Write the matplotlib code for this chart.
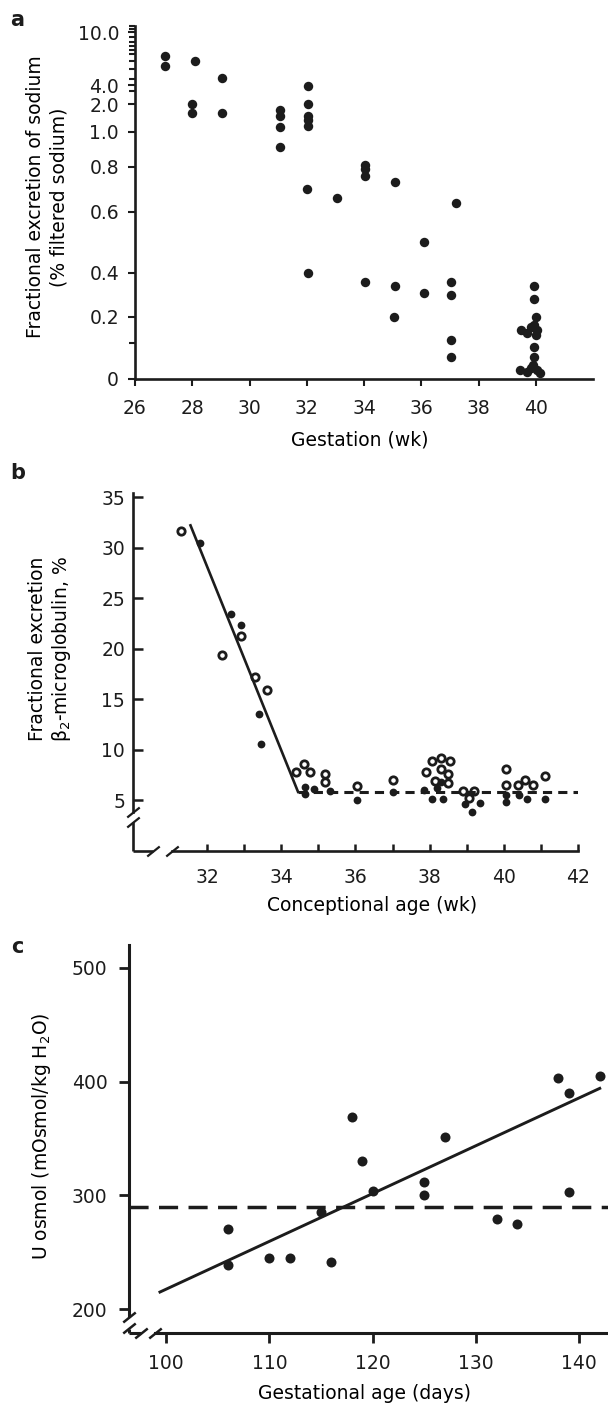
import matplotlib
matplotlib.use("Agg")
import matplotlib.pyplot as plt
import numpy as np

# ---- (a) fractional excretion of sodium vs gestation ----
gest_wk = [27.05, 27.05, 28.1, 28.0, 28.0, 29.05, 29.05,
           31.05, 31.05, 31.05, 31.05,
           32.05, 32.05, 32.05, 32.05, 32.05, 32.0, 32.05,
           33.05, 34.05, 34.05, 34.05, 34.05,
           35.1, 35.1, 35.05, 36.1, 36.1,
           37.2, 37.05, 37.05, 37.05, 37.05,
           39.95, 39.95, 40.0, 39.95, 40.05, 39.5, 39.7, 39.85, 40.0,
           39.95, 39.95, 39.9, 39.85, 39.45, 39.7, 40.05, 40.15]
fe_na = [7.28, 6.15, 6.72, 2.0, 1.67, 4.79, 1.70,
         1.78, 1.56, 1.15, 0.91,
         3.9, 2.0, 1.56, 1.41, 1.19, 0.70, 0.40,
         0.66, 0.81, 0.79, 0.76, 0.36,
         0.73, 0.34, 0.20, 0.50, 0.31,
         0.64, 0.36, 0.30, 0.11, 0.06,
         0.34, 0.28, 0.20, 0.17, 0.15, 0.15, 0.14, 0.16, 0.13,
         0.09, 0.06, 0.04, 0.03, 0.025, 0.02, 0.025, 0.017]
fe_na_ticks = [0, 0.2, 0.4, 0.6, 0.8, 1.0, 2.0, 4.0, 10.0]
fe_na_labels = ["0", "0.2", "0.4", "0.6", "0.8", "1.0", "2.0", "4.0", "10.0"]
gest_ticks = [26, 28, 30, 32, 34, 36, 38, 40]

# ---- (b) beta2-microglobulin vs conceptional age ----
b2m_open_x = [31.3, 32.4, 32.9, 33.3, 33.6,
              34.4, 34.6, 34.78, 35.18, 35.18,
              36.05, 37.0,
              37.9, 38.05, 38.3, 38.55, 38.3, 38.5, 38.15, 38.5,
              38.9, 39.2, 39.05,
              40.05, 40.05, 40.37, 40.57, 40.8, 41.1]
b2m_open_y = [31.6, 19.4, 21.3, 17.2, 15.9,
              7.85, 8.6, 7.85, 7.6, 6.8,
              6.4, 7.0,
              7.8, 8.9, 9.2, 8.9, 8.1, 7.6, 6.9, 6.7,
              5.9, 5.9, 5.2,
              8.1, 6.5, 6.5, 7.0, 6.5, 7.4]
b2m_fill_x = [31.8, 32.65, 32.9, 33.4, 33.45,
              34.64, 34.64, 34.87, 35.32,
              36.05, 37.0,
              37.85, 38.05, 38.2, 38.35, 38.3,
              38.95, 39.15, 39.35,
              40.05, 40.05, 40.4, 40.62, 41.1]
b2m_fill_y = [30.5, 23.4, 22.3, 13.5, 10.6,
              6.35, 5.6, 6.1, 5.95,
              5.0, 5.8,
              6.0, 5.1, 6.2, 5.1, 6.8,
              4.6, 3.9, 4.7,
              5.5, 4.8, 5.5, 5.1, 5.1]
b2m_fit_x = [31.55, 34.45]
b2m_fit_y = [32.2, 5.85]
b2m_plateau_x = [34.45, 42.0]
b2m_plateau_y = [5.85, 5.85]

# ---- (c) urine osmolality vs gestational age ----
osm_age = [106, 106, 110, 112, 115, 116, 118, 119, 120,
           125, 125, 127, 132, 134, 138, 139, 139, 142]
osm_val = [270, 239, 245, 245, 285, 241, 369, 330, 304,
           312, 300, 351, 279, 275, 403, 390, 303, 405]
osm_fit_x = [99.4, 142.0]
osm_fit_y = [215, 394]
osm_mean = 289.5

INK = "#1c1c1c"
W, H = 608, 1403

plt.rcParams["font.family"] = ["DejaVu Sans"]
plt.rcParams["font.size"] = 13.5
plt.rcParams["text.color"] = INK
plt.rcParams["axes.edgecolor"] = INK
plt.rcParams["xtick.color"] = INK
plt.rcParams["ytick.color"] = INK


def px_rect(left, top, right, bottom):
    return [left / W, 1 - bottom / H, (right - left) / W, (bottom - top) / H]


def slash(ax, x, y, lw):
    ax.plot([x], [y], marker=[(-1, -0.8), (1, 0.8)], ms=9, mew=lw,
            mec=INK, mfc="none", ls="none", clip_on=False)


def stub(ax, xs, ys, lw):
    ax.plot(xs, ys, color=INK, lw=lw, solid_capstyle="butt", clip_on=False)


fig = plt.figure(figsize=(W / 100, H / 100), dpi=100)

# ---------------- panel a ----------------
# hand-drawn, compressed y axis of the original figure
scale_v = [0, 0.1, 0.2, 0.4, 0.6, 0.8, 1.0, 2.0, 4.0, 10.0, 11.0]
scale_p = [0, 36, 62, 106, 167, 212, 247, 274, 293, 346, 355]

ax1 = fig.add_axes(px_rect(135, 26, 593, 379))
ax1.set_yscale("function", functions=(lambda v: np.interp(v, scale_v, scale_p),
                                      lambda p: np.interp(p, scale_p, scale_v)))
ax1.plot(gest_wk, fe_na, "o", ms=6.8, color=INK, mec="none", clip_on=False)
ax1.set_xlim(26, 42)
ax1.set_ylim(0, 10.7)
ax1.set_xticks(gest_ticks)
ax1.set_yticks(fe_na_ticks)
ax1.set_yticklabels(fe_na_labels)
ax1.set_yticks([0.1, 3.4, 4.7, 5.8, 6.8, 7.5, 8.0, 8.4, 8.9, 9.45, 10.35, 10.7],
               minor=True)
ax1.tick_params(axis="both", which="both", direction="out", width=1.5)
ax1.tick_params(axis="both", which="major", length=5)
ax1.tick_params(axis="both", which="minor", length=4)
ax1.tick_params(axis="x", pad=9.5)
ax1.tick_params(axis="y", pad=6.5)
for s in ["top", "right"]:
    ax1.spines[s].set_visible(False)
for s in ["left", "bottom"]:
    ax1.spines[s].set_linewidth(1.9)
ax1.set_xlabel("Gestation (wk)", va="center")
ax1.xaxis.set_label_coords(0.491, -0.173)
ax1.set_ylabel("Fractional excretion of sodium\n(% filtered sodium)",
               va="center", linespacing=1.3)
ax1.yaxis.set_label_coords(-0.191, 0.516)

# ---------------- panel b ----------------
ax2 = fig.add_axes(px_rect(133, 493, 578, 851))
ax2.plot(b2m_fit_x, b2m_fit_y, color=INK, lw=1.9)
ax2.plot(b2m_plateau_x, b2m_plateau_y, color=INK, lw=2.2, ls=(0, (3.0, 2.0)))
ax2.plot(b2m_fill_x, b2m_fill_y, "o", ms=5.6, color=INK, mec="none")
ax2.plot(b2m_open_x, b2m_open_y, "o", ms=5.3, mfc="none", mec=INK, mew=2.0)
ax2.set_xlim(30, 42)
ax2.set_ylim(0, 35.4)
ax2.set_xticks([32, 34, 36, 38, 40, 42])
ax2.set_xticks([33, 35, 37, 39, 41], minor=True)
ax2.set_yticks([5, 10, 15, 20, 25, 30, 35])
ax2.tick_params(axis="both", which="both", direction="in", width=1.8)
ax2.tick_params(axis="y", length=7, pad=5.8)
ax2.tick_params(axis="x", which="both", length=5, pad=12)
for s in ["top", "right"]:
    ax2.spines[s].set_visible(False)
for s in ["left", "bottom"]:
    ax2.spines[s].set_linewidth(1.9)
ax2.spines["left"].set_bounds(3.85, 35.4)
ax2.spines["bottom"].set_bounds(31.05, 42)
stub(ax2, [30, 30], [0, 2.87], 1.9)
stub(ax2, [30, 30.55], [0, 0], 1.9)
slash(ax2, 30, 3.85, 1.6)
slash(ax2, 30, 2.87, 1.6)
slash(ax2, 30.55, 0, 1.6)
slash(ax2, 31.05, 0, 1.6)
ax2.set_xlabel("Conceptional age (wk)", va="center")
ax2.xaxis.set_label_coords(0.537, -0.151)
ax2.set_ylabel("Fractional excretion\nβ$_2$-microglobulin, %", va="center")
ax2.yaxis.set_label_coords(-0.185, 0.564)

# ---------------- panel c ----------------
ax3 = fig.add_axes(px_rect(129, 945, 608, 1333))
ax3.axhline(osm_mean, color=INK, lw=2.5, ls=(0, (5.5, 3.0)))
ax3.plot(osm_fit_x, osm_fit_y, color=INK, lw=2.1)
ax3.plot(osm_age, osm_val, "o", ms=7.2, color=INK, mec="none")
ax3.set_xlim(96.4, 142.8)
ax3.set_ylim(179, 520)
ax3.set_xticks([100, 110, 120, 130, 140])
ax3.set_yticks([200, 300, 400, 500])
ax3.tick_params(axis="both", direction="out", width=2.0, length=7)
ax3.tick_params(axis="x", pad=8)
ax3.tick_params(axis="y", pad=8.6)
for s in ["top", "right"]:
    ax3.spines[s].set_visible(False)
for s in ["left", "bottom"]:
    ax3.spines[s].set_linewidth(2.2)
ax3.spines["left"].set_bounds(194, 520)
ax3.spines["bottom"].set_bounds(98.9, 142.8)
stub(ax3, [96.4, 96.4], [179, 182.5], 2.2)
stub(ax3, [96.4, 97.6], [179, 179], 2.2)
slash(ax3, 96.4, 183, 1.8)
slash(ax3, 96.4, 193, 1.8)
slash(ax3, 97.6, 179, 1.8)
slash(ax3, 98.9, 179, 1.8)
ax3.set_xlabel("Gestational age (days)", va="center")
ax3.xaxis.set_label_coords(0.492, -0.155)
ax3.set_ylabel("U osmol (mOsmol/kg H$_2$O)", va="center")
ax3.yaxis.set_label_coords(-0.182, 0.508)

# panel letters
for letter, y in [("a", 20), ("b", 473), ("c", 947)]:
    fig.text(17.5 / W, 1 - y / H, letter, fontsize=15, fontweight="bold",
             ha="center", va="center")

fig.savefig("out.png", dpi=100)
